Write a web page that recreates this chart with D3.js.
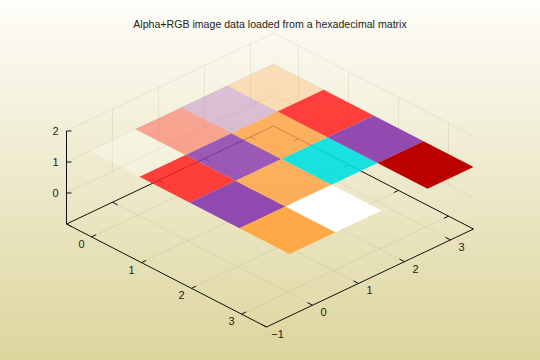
<!DOCTYPE html>
<html>
<head>
<meta charset="utf-8">
<script src="https://cdn.jsdelivr.net/npm/d3@7"></script>
<style>
html, body { margin: 0; padding: 0; }
svg { display: block; }
text { font-family: "Liberation Sans", Arial, sans-serif; fill: #222; }
</style>
</head>
<body>
<div id="chart"></div>
<script>
//Chart data
const title = "Alpha+RGB image data loaded from a hexadecimal matrix";
const xTicks = [0, 1, 2, 3];
const yTicks = [0, 1, 2, 3];
const yTickLabels = [-1, 0, 1, 2, 3];
const zTicks = [0, 1, 2];
const zPlane = 1;

//Image cells, one row per x value, one column per y value
const cellColors = [
    ["#ffffff", "#ff4a3a", "#a860c0", "#ffa850"],
    ["#ff2020", "#8c40b0", "#ffa040", "#ff2020"],
    ["#8c40ae", "#ffa040", "#00e0e0", "#8c40ae"],
    ["#ffa440", "#ffffff", "#000000", "#bb0000"]
];
const cellAlphas = [
    [0.3, 0.45, 0.35, 0.3],
    [0.85, 0.85, 0.8, 0.85],
    [0.95, 0.8, 0.9, 0.95],
    [0.95, 1, 0, 1]
];

const width = 540;
const height = 360;

//Create core SVG
const svg = d3.select("#chart")
    .append("svg")
    .attr("width", width)
    .attr("height", height);

//Background gradient
const grad = svg.append("defs").append("linearGradient")
    .attr("id", "bg")
    .attr("x1", 0).attr("y1", 0).attr("x2", 0).attr("y2", 1);
grad.append("stop").attr("offset", "0%").attr("stop-color", "#fefdf9");
grad.append("stop").attr("offset", "100%").attr("stop-color", "#ddd59d");
svg.append("rect")
    .attr("width", width)
    .attr("height", height)
    .attr("fill", "url(#bg)");

/*#########
Projection
#########*/
const xMin = -0.5, xMax = 3.5, yMin = -1, yMax = 3.5, zMin = -1, zMax = 2;

//Each data axis moves the screen point along its own direction
const xToPx = d3.scaleLinear().domain([xMin, xMax]).range([0, 200]);
const xToPy = d3.scaleLinear().domain([xMin, xMax]).range([0, 103]);
const yToPx = d3.scaleLinear().domain([yMin, yMax]).range([0, 207]);
const yToPy = d3.scaleLinear().domain([yMin, yMax]).range([0, -98]);
const zToPy = d3.scaleLinear().domain([zMin, zMax]).range([0, -93]);
const originX = 66.5, originY = 224;

const project = (x, y, z) => [
    originX + xToPx(x) + yToPx(y),
    originY + xToPy(x) + yToPy(y) + zToPy(z)
];
const line3d = d3.line();

/*#########
Grid
#########*/
const gridColor = "rgba(120,120,100,0.13)";
const gridSegments = [];
xTicks.forEach(x => {
    gridSegments.push([[x, yMin, zMin], [x, yMax, zMin]]);
    gridSegments.push([[x, yMax, 0], [x, yMax, zMax]]);
});
yTicks.forEach(y => {
    gridSegments.push([[xMin, y, zMin], [xMax, y, zMin]]);
    gridSegments.push([[xMin, y, 0], [xMin, y, zMax]]);
});
zTicks.forEach(z => {
    gridSegments.push([[xMin, yMin, z], [xMin, yMax, z]]);
    gridSegments.push([[xMin, yMax, z], [xMax, yMax, z]]);
});
svg.append("g").selectAll("path")
    .data(gridSegments)
    .join("path")
    .attr("d", d => line3d(d.map(p => project(...p))))
    .attr("fill", "none")
    .attr("stroke", gridColor)
    .attr("stroke-width", 1);

/*#########
Border and tick marks
#########*/
const borderPath = [
    [xMin, yMin, zMin], [xMax, yMin, zMin],
    [xMax, yMax, zMin], [xMin, yMax, zMin], [xMin, yMin, zMin]
];
const axisG = svg.append("g")
    .attr("fill", "none")
    .attr("stroke", "#111")
    .attr("stroke-width", 1);
axisG.append("path")
    .attr("d", line3d(borderPath.map(p => project(...p))));
axisG.append("path")
    .attr("d", line3d([[xMin, yMin, zTicks[zTicks.length - 1]], [xMin, yMin, zMin]].map(p => project(...p))));

const tickLen = 0.1;
xTicks.forEach(x => {
    axisG.append("path").attr("d", line3d([[x, yMin, zMin], [x, yMin + tickLen, zMin]].map(p => project(...p))));
    axisG.append("path").attr("d", line3d([[x, yMax, zMin], [x, yMax - tickLen, zMin]].map(p => project(...p))));
});
yTickLabels.forEach(y => {
    axisG.append("path").attr("d", line3d([[xMax, y, zMin], [xMax - tickLen, y, zMin]].map(p => project(...p))));
    axisG.append("path").attr("d", line3d([[xMin, y, zMin], [xMin + tickLen, y, zMin]].map(p => project(...p))));
});
zTicks.forEach(z => {
    const p = project(xMin, yMin, z);
    axisG.append("path").attr("d", line3d([p, [p[0] + 5, p[1]]]));
});

/*#########
Image cells
#########*/
const cells = [];
cellColors.forEach((row, i) => row.forEach((c, j) => {
    cells.push({ x: xTicks[i], y: yTicks[j], color: c, alpha: cellAlphas[i][j] });
}));
svg.append("g").selectAll("path")
    .data(cells)
    .join("path")
    .attr("d", d => line3d([
        [d.x - 0.5, d.y - 0.5], [d.x + 0.5, d.y - 0.5],
        [d.x + 0.5, d.y + 0.5], [d.x - 0.5, d.y + 0.5]
    ].map(p => project(p[0], p[1], zPlane))) + "Z")
    .attr("fill", d => d.color)
    .attr("fill-opacity", d => d.alpha);

/*#########
Labels
#########*/
svg.append("text")
    .text(title)
    .attr("x", 270)
    .attr("y", 28)
    .attr("text-anchor", "middle")
    .style("font-size", "10.6px");

svg.append("g").selectAll("text")
    .data(zTicks)
    .join("text")
    .text(d => d)
    .attr("x", d => project(xMin, yMin, d)[0] - 8)
    .attr("y", d => project(xMin, yMin, d)[1] + 4)
    .attr("text-anchor", "end")
    .style("font-size", "11px");

svg.append("g").selectAll("text")
    .data(xTicks)
    .join("text")
    .text(d => d)
    .attr("x", d => project(d, yMin, zMin)[0] - 10)
    .attr("y", d => project(d, yMin, zMin)[1] + 11)
    .attr("text-anchor", "middle")
    .style("font-size", "11px");

svg.append("g").selectAll("text")
    .data(yTickLabels)
    .join("text")
    .text(d => d < 0 ? "\u2212" + Math.abs(d) : d)
    .attr("x", d => project(xMax, d, zMin)[0] + 11)
    .attr("y", d => project(xMax, d, zMin)[1] + 11)
    .attr("text-anchor", "middle")
    .style("font-size", "11px");
</script>
</body>
</html>
